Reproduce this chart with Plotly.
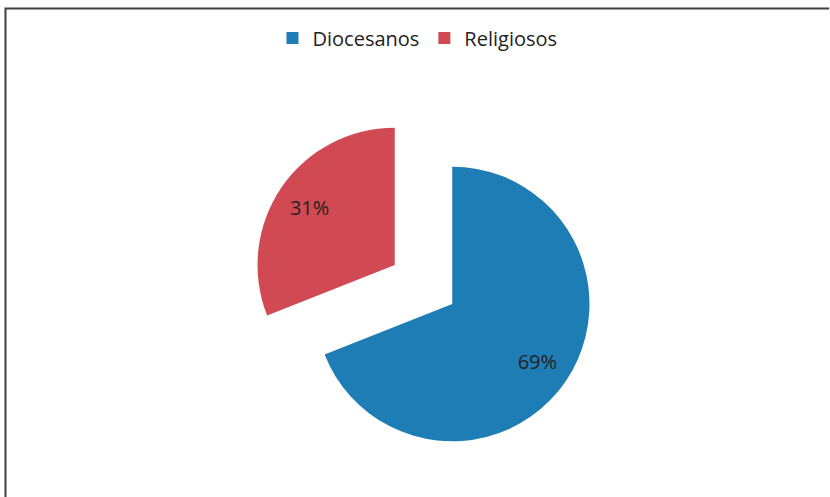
import plotly.graph_objects as go

categories = ["Diocesanos", "Religiosos"]
values = [69, 31]
colors = ["#1F7DB5", "#D14A53"]

W, H = 830, 497
cx, cy = 423.5, 284.5
size = 344
dom = dict(x=[(cx - size / 2) / W, (cx + size / 2) / W],
           y=[1 - (cy + size / 2) / H, 1 - (cy - size / 2) / H])
pull = [0.253, 0.253]

fig = go.Figure()
fig.add_trace(go.Pie(
    labels=categories,
    values=values,
    sort=False,
    direction="clockwise",
    rotation=0,
    pull=pull,
    marker=dict(colors=colors, line=dict(width=0)),
    textinfo="none",
    domain=dom,
    hoverinfo="label+percent",
))
# transparent ring used only to place the percentage labels further out
fig.add_trace(go.Pie(
    labels=categories,
    values=values,
    sort=False,
    direction="clockwise",
    rotation=0,
    pull=pull,
    hole=0.5,
    marker=dict(colors=["rgba(0,0,0,0)"] * 2, line=dict(width=0)),
    textinfo="percent",
    textposition="inside",
    insidetextorientation="horizontal",
    textfont=dict(family="Open Sans, sans-serif", size=20, color="#222222"),
    domain=dom,
    showlegend=False,
    hoverinfo="skip",
))

fig.update_layout(
    width=W, height=H,
    margin=dict(l=0, r=0, t=0, b=0),
    paper_bgcolor="white",
    showlegend=True,
    legend=dict(orientation="h", x=0.503, xanchor="center", y=1 - 38 / H, yanchor="middle",
                bgcolor="rgba(0,0,0,0)",
                font=dict(family="Open Sans, sans-serif", size=20, color="#222222")),
    shapes=[dict(type="path", xref="paper", yref="paper",
                 path="M 0.0066 0 L 0.0066 0.9829 L 0.999 0.9829",
                 line=dict(color="#404040", width=2))],
)

fig.write_html("out.html", config={"displayModeBar": False},
               post_script="document.body.style.margin='0';")
